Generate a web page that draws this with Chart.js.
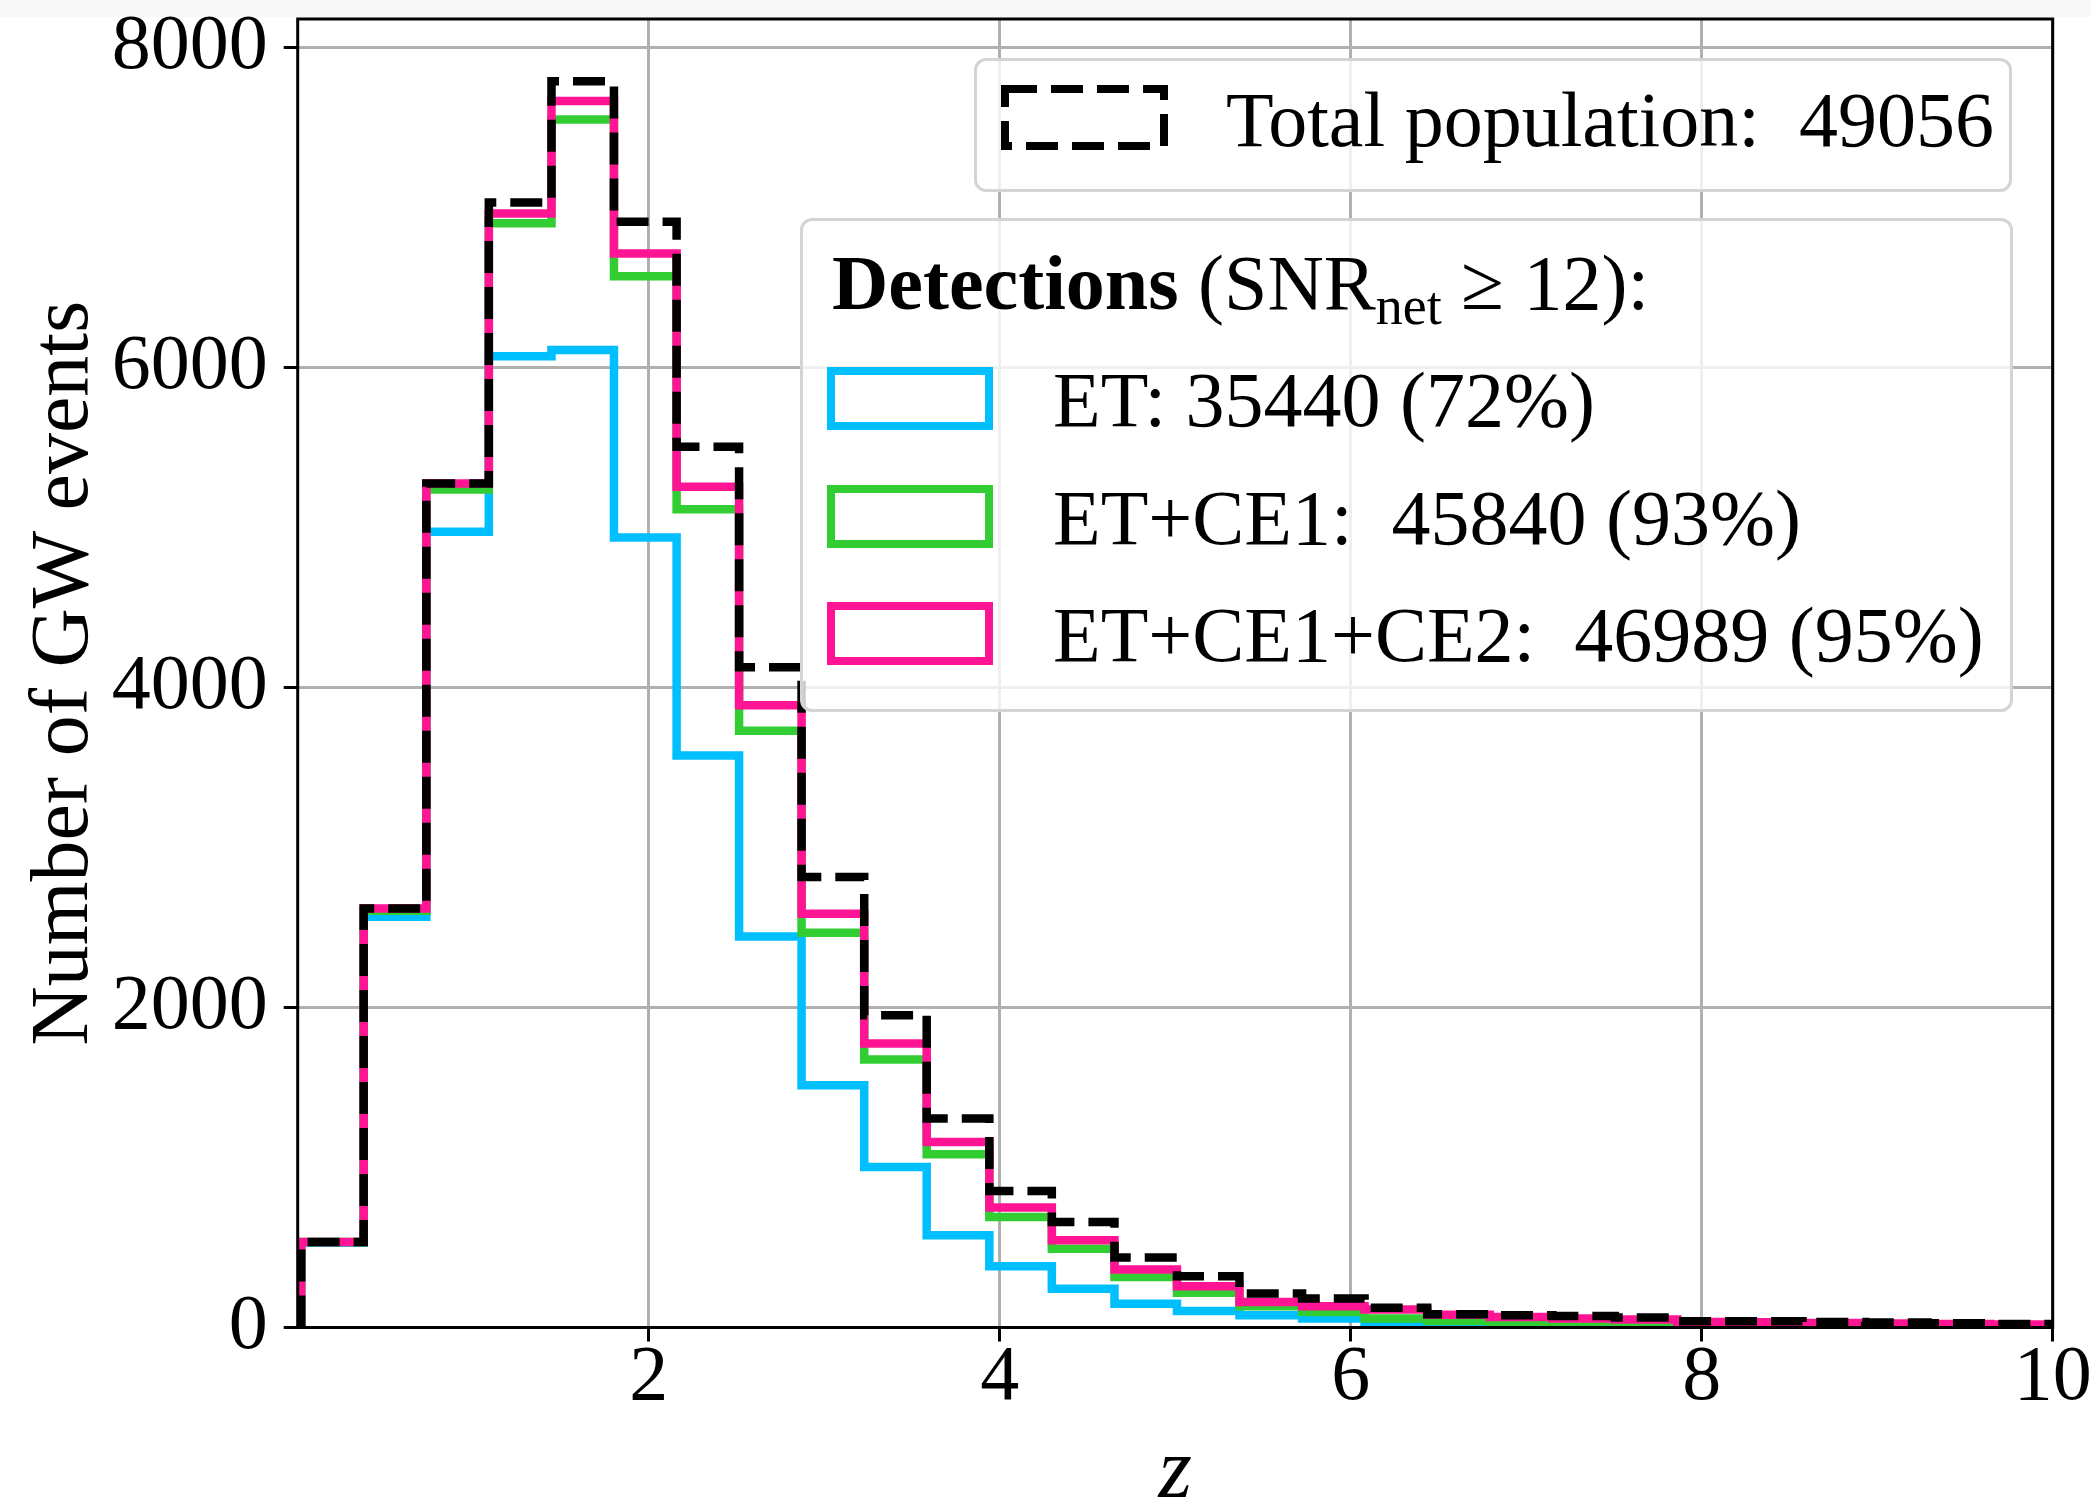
<!DOCTYPE html>
<html>
<head>
<meta charset="utf-8">
<script src="https://cdn.jsdelivr.net/npm/chart.js@4.4.0/dist/chart.umd.min.js"></script>
<style>
    html, body { margin: 0; padding: 0; background: #fff; }
    #wrap { position: relative; width: 2091px; height: 1505px; overflow: hidden; font-family: "Liberation Serif", serif; color: #000; }
    #topband { position: absolute; left: 0; top: 0; width: 2091px; height: 17px; background: #f8f8f8; }
    #chart { position: absolute; left: 0; top: 0; }
    .legend-box { position: absolute; box-sizing: border-box; border: 3px solid #d4d4d4; border-radius: 12px; background: rgba(255, 255, 255, 0.8); }
    .handle { position: absolute; }
    .ltext { position: absolute; font-size: 78px; line-height: 1; white-space: nowrap; }
    .sub { font-size: 54px; position: relative; top: 0.28em; }
</style>
</head>
<body>
<div id="wrap">
    <div id="topband"></div>
    <canvas id="chart" width="2091" height="1505"></canvas>

    <div class="legend-box" style="left:974px; top:58px; width:1038px; height:134px;"></div>
    <svg class="handle" style="left:1001px; top:85px;" width="167" height="65">
        <rect x="4" y="4" width="159" height="57" fill="none" stroke="#000" stroke-width="8" stroke-dasharray="32 14"></rect>
    </svg>
    <div class="ltext" style="left:1226px; top:81px;">Total population:&nbsp; 49056</div>

    <div class="legend-box" style="left:800px; top:218px; width:1213px; height:494px;"></div>
    <div class="ltext" style="left:832px; top:244px;"><b>Detections</b> (SNR<span class="sub">net</span> ≥ 12):</div>
    <svg class="handle" style="left:827px; top:367px;" width="166" height="63">
        <rect x="4" y="4" width="158" height="55" fill="none" stroke="#00bfff" stroke-width="8"></rect>
    </svg>
    <div class="ltext" style="left:1053px; top:361px;">ET: 35440 (72%)</div>
    <svg class="handle" style="left:827px; top:485px;" width="166" height="63">
        <rect x="4" y="4" width="158" height="55" fill="none" stroke="#32cd32" stroke-width="8"></rect>
    </svg>
    <div class="ltext" style="left:1053px; top:479px;">ET+CE1:&nbsp; 45840 (93%)</div>
    <svg class="handle" style="left:827px; top:602px;" width="166" height="63">
        <rect x="4" y="4" width="158" height="55" fill="none" stroke="#ff1493" stroke-width="8"></rect>
    </svg>
    <div class="ltext" style="left:1053px; top:596px;">ET+CE1+CE2:&nbsp; 46989 (95%)</div>
</div>

<script>
// redshift bin edges (28 bins)
const binEdges = [0.020, 0.376, 0.733, 1.089, 1.446, 1.802, 2.159, 2.515, 2.871, 3.228,
    3.584, 3.941, 4.297, 4.654, 5.010, 5.366, 5.723, 6.079, 6.436, 6.792,
    7.149, 7.505, 7.861, 8.218, 8.574, 8.931, 9.287, 9.644, 10.000];

// counts per bin
const totalCounts = [535, 2619, 5276, 7032, 7790, 6912, 5505, 4127, 2816, 1952,
    1306, 854, 660, 437, 320, 212, 181, 124, 83, 76,
    72, 62, 39, 39, 34, 31, 26, 22];
const etCounts = [530, 2567, 4974, 6072, 6110, 4938, 3576, 2444, 1514, 1003,
    576, 383, 243, 149, 103, 76, 56, 28, 20, 17,
    14, 8, 6, 5, 4, 3, 2, 2];
const etCe1Counts = [535, 2605, 5239, 6902, 7552, 6572, 5115, 3730, 2468, 1675,
    1083, 691, 493, 316, 218, 133, 97, 56, 41, 35,
    22, 20, 15, 12, 10, 8, 6, 5];
const etCe1Ce2Counts = [535, 2619, 5276, 6964, 7667, 6714, 5255, 3889, 2587, 1775,
    1160, 750, 545, 362, 258, 159, 133, 112, 80, 66,
    56, 50, 35, 33, 28, 25, 22, 18];

const xTicks = [2, 4, 6, 8, 10];
const yTicks = [0, 2000, 4000, 6000, 8000];

const FONT = '"Liberation Serif", serif';

// outline of a step histogram: rise at the left edge, run to the right edge
function stepPoints(counts) {
    const pts = [{ x: binEdges[0], y: 0 }];
    counts.forEach((c, i) => pts.push({ x: binEdges[i + 1], y: c }));
    pts.push({ x: binEdges[binEdges.length - 1], y: 0 });
    return pts;
}

function histDataset(label, counts, color, dash) {
    return {
        label: label,
        data: stepPoints(counts),
        borderColor: color,
        borderWidth: 8.5,
        borderDash: dash || [],
        borderJoinStyle: 'miter',
        borderCapStyle: 'butt',
        stepped: 'after',
        pointRadius: 0,
        fill: false,
        clip: 0,
    };
}

// top/right spines like matplotlib's box
const frame = {
    id: 'frame',
    afterDatasetsDraw(chart) {
        const { ctx, chartArea: a } = chart;
        ctx.save();
        ctx.strokeStyle = '#000';
        ctx.lineWidth = 3;
        ctx.strokeRect(a.left, a.top, a.right - a.left, a.bottom - a.top);
        ctx.restore();
    }
};

// Chart.js paints the first dataset last, so the dashed total goes first
new Chart(document.getElementById('chart'), {
    type: 'line',
    data: {
        datasets: [
            histDataset('Total population', totalCounts, '#000000', [32, 14]),
            histDataset('ET+CE1+CE2', etCe1Ce2Counts, '#ff1493'),
            histDataset('ET+CE1', etCe1Counts, '#32cd32'),
            histDataset('ET', etCounts, '#00bfff'),
        ]
    },
    options: {
        responsive: false,
        animation: false,
        events: [],
        layout: { padding: { top: 19, right: 38.3, left: 0, bottom: 0 } },
        plugins: {
            legend: { display: false },
            tooltip: { enabled: false },
        },
        scales: {
            x: {
                type: 'linear',
                min: 0,
                max: 10,
                afterBuildTicks(scale) {
                    scale.ticks = xTicks.map(v => ({ value: v }));
                },
                afterFit(scale) {
                    scale.height = 177.5;
                    scale.paddingLeft = 0;
                    scale.paddingRight = 0;
                },
                grid: { color: '#b0b0b0', lineWidth: 3, tickColor: '#000', tickWidth: 3, tickLength: 14 },
                border: { display: false },
                ticks: {
                    color: '#000',
                    padding: 18,
                    maxRotation: 0,
                    callback: v => String(v),
                    font: { family: FONT, size: 78, lineHeight: 0.5 },
                },
                title: {
                    display: true,
                    text: 'z',
                    color: '#000',
                    padding: { top: 0, bottom: -12 },
                    font: { family: FONT, size: 86, style: 'italic', lineHeight: 1 },
                },
            },
            y: {
                type: 'linear',
                min: 0,
                max: 7790 * 1.05,
                afterBuildTicks(scale) {
                    scale.ticks = yTicks.map(v => ({ value: v }));
                },
                afterFit(scale) {
                    scale.width = 297.7;
                    scale.paddingTop = 0;
                    scale.paddingBottom = 0;
                },
                grid: { color: '#b0b0b0', lineWidth: 3, tickColor: '#000', tickWidth: 3, tickLength: 14 },
                border: { display: false },
                ticks: {
                    color: '#000',
                    padding: 16,
                    callback: v => String(v),
                    font: { family: FONT, size: 78 },
                },
                title: {
                    display: true,
                    text: 'Number of GW events',
                    color: '#000',
                    padding: { top: 24, bottom: 0 },
                    font: { family: FONT, size: 82, lineHeight: 1 },
                },
            },
        },
    },
    plugins: [frame],
});
</script>
</body>
</html>
